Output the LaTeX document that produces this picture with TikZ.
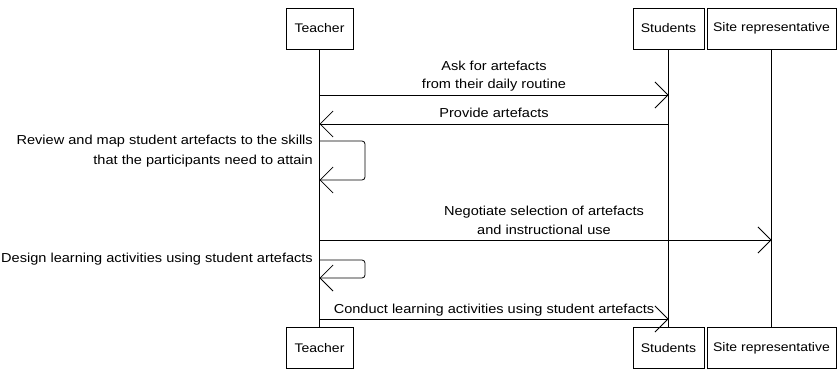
\documentclass[tikz,border=0pt]{standalone}
\usepackage{fontspec}
\setmainfont[FakeStretch=1.12]{Liberation Sans}
\usetikzlibrary{arrows.meta}
\begin{document}
\begin{tikzpicture}[x=1pt,y=-1pt,
  actor/.style={draw, line width=0.8pt, minimum height=41pt, inner sep=0pt, font=\fontsize{12.5}{14}\selectfont},
  life/.style={line width=0.7pt},
  msg/.style={line width=0.8pt, -{Straight Barb[length=13pt,width=26pt,line width=0.8pt]}},
  loopmsg/.style={msg, rounded corners=3pt},
  lbl/.style={font=\fontsize{13}{15}\selectfont, inner sep=0pt},
]
\useasboundingbox (0,0) rectangle (837,370);
% actors top
\node[actor, minimum width=67pt]  (tT) at (319.5,28.5) {Teacher};
\node[actor, minimum width=71pt]  (sT) at (668.5,28.5) {Students};
\node[actor, minimum width=129pt] (rT) at (771.5,28.5) {Site representative};
% actors bottom
\node[actor, minimum width=67pt]  (tB) at (319.5,348) {Teacher};
\node[actor, minimum width=71pt]  (sB) at (668.5,348) {Students};
\node[actor, minimum width=129pt] (rB) at (771.5,348) {Site representative};
% lifelines
\draw[life] (tT) -- (tB);
\draw[life] (sT) -- (sB);
\draw[life] (rT) -- (rB);
% message anchors
\coordinate (a1) at (319.5,95);  \coordinate (b1) at (668.5,95);
\coordinate (a2) at (319.5,124); \coordinate (b2) at (668.5,124);
\coordinate (a3) at (319.5,141); \coordinate (c3) at (319.5,180);
\coordinate (a4) at (319.5,240); \coordinate (b4) at (771.5,240);
\coordinate (a5) at (319.5,260); \coordinate (c5) at (319.5,278);
\coordinate (a6) at (319.5,319); \coordinate (b6) at (668.5,319);
% messages
\draw[msg] (a1) -- (b1);
\node[lbl] (l1a) at (494,66) {Ask for artefacts};
\node[lbl] (l1b) at (494,85) {from their daily routine};
\draw[msg] (b2) -- (a2);
\node[lbl] (l2) at (494,113) {Provide artefacts};
\draw[loopmsg] (a3) -- (365,141) -- (365,180) -- (c3);
\node[lbl, anchor=east] (l3a) at (313,141) {Review and map student artefacts to the skills};
\node[lbl, anchor=east] (l3b) at (313,161) {that the participants need to attain};
\draw[msg] (a4) -- (b4);
\node[lbl] (l4a) at (544,212) {Negotiate selection of artefacts};
\node[lbl] (l4b) at (544,230) {and instructional use};
\draw[loopmsg] (a5) -- (365,260) -- (365,278) -- (c5);
\node[lbl, anchor=east] (l5) at (313,259) {Design learning activities using student artefacts};
\draw[msg] (a6) -- (b6);
\node[lbl] (l6) at (494,310) {Conduct learning activities using student artefacts};
\end{tikzpicture}
\end{document}
